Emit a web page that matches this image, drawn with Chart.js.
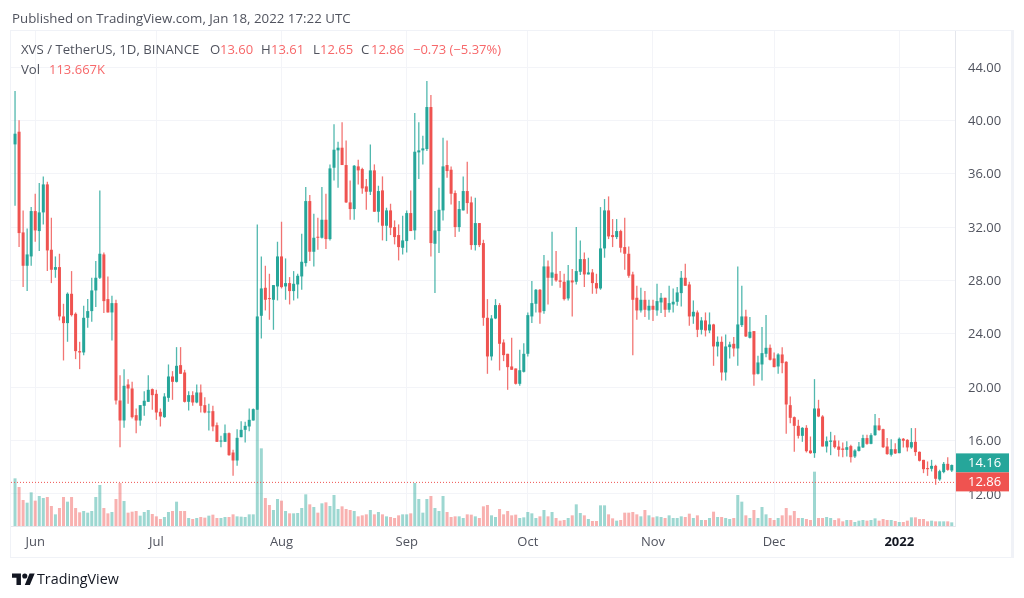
<!DOCTYPE html>
<html>
<head>
<meta charset="utf-8">
<title>XVS / TetherUS</title>
<script src="https://cdn.jsdelivr.net/npm/chart.js@4/dist/chart.umd.min.js"></script>
<style>
  html, body { margin:0; padding:0; background:#fff; width:1024px; height:598px; overflow:hidden; }
  body { font-family:"Open Sans", "Noto Sans", sans-serif; position:relative; }
  #wrap { position:absolute; left:0; top:0; width:1024px; height:598px; }
  #frame { position:absolute; left:10px; top:30px; width:1000px; height:526px; border:1px solid #f0f2f7; border-right:3px solid #f0f2f7; }
  #published { position:absolute; left:12px; top:10px; font-size:13.3px; line-height:17px; color:#50535e; }
  .legend { position:absolute; left:21px; font-size:13.2px; line-height:17px; color:#50535e; white-space:pre; }
  #l1 { top:41px; } #l2 { top:61px; }
  .legend span { position:absolute; top:0; color:#f7686a; font-size:13px; }
  .legend b { position:absolute; top:0; font-weight:normal; }
  #logo { position:absolute; left:12px; top:571px; width:23px; height:15px; }
  #brand { position:absolute; left:37px; top:569px; font-size:14.3px; line-height:19px; color:#131722; }
</style>
</head>
<body>
<div id="wrap"><canvas id="chart" width="1024" height="598"></canvas></div>
<div id="frame"></div>
<div id="published">Published on TradingView.com, Jan 18, 2022 17:22 UTC</div>
<div class="legend" id="l1">XVS / TetherUS, 1D, BINANCE<b style="left:189px">O</b><span style="left:199px">13.60</span><b style="left:240px">H</b><span style="left:250px">13.61</span><b style="left:292px">L</b><span style="left:299px">12.65</span><b style="left:340px">C</b><span style="left:350px">12.86</span><span style="left:392px">−0.73 (−5.37%)</span></div>
<div class="legend" id="l2">Vol<span style="left:28px">113.667K</span></div>
<svg id="logo" viewBox="0 0 36 22"><path fill="#131722" d="M14 21H7V10H0V3h14v18zM28 21h-8l7.5-18h8L28 21z"/><circle fill="#131722" cx="20" cy="7" r="4"/></svg>
<div id="brand">TradingView</div>
<script>
const tickIndex  = [5, 35, 66, 97, 127, 158, 188, 219];
const tickLabels = ['Jun', 'Jul', 'Aug', 'Sep', 'Oct', 'Nov', 'Dec', '2022'];
const priceTicks = [12, 16, 20, 24, 28, 32, 36, 40, 44];

const opens = [
  38.2,39.15,31.6,29.1,29.8,33.2,31.7,33.1,35.2,30.3,
  28.8,29.0,25.3,24.8,27.0,25.5,22.7,22.6,25.2,25.7,
  27.25,28.2,29.95,26.6,25.6,26.3,19.0,17.5,20.2,19.9,
  17.9,17.5,18.6,18.9,19.85,19.5,18.15,17.75,19.2,20.8,
  20.4,21.65,21.1,18.9,19.4,18.85,19.6,18.65,18.1,18.2,
  17.15,15.92,15.9,16.55,15.1,14.5,16.25,16.8,17.05,17.5,
  18.3,25.35,27.45,26.65,26.55,27.55,29.8,27.55,27.8,27.2,
  27.7,28.3,29.3,33.95,30.15,31.25,31.2,32.55,31.1,36.45,
  37.75,37.95,36.65,33.85,33.35,36.55,36.35,35.05,34.65,36.25,
  33.15,34.75,32.1,33.25,32.0,31.4,30.45,30.95,33.05,31.75,
  37.6,37.75,37.85,41.0,30.75,31.7,33.25,36.65,36.3,34.55,
  32.0,33.25,34.7,33.85,30.65,32.3,30.8,25.2,22.3,25.15,
  26.15,23.35,22.5,21.55,21.4,20.25,21.15,22.5,25.3,26.25,
  27.3,25.7,29.05,28.2,28.5,28.0,27.9,26.65,28.0,27.9,
  28.65,29.6,28.45,28.6,27.8,27.4,30.4,33.25,31.4,31.25,
  31.7,30.5,30.0,28.45,26.7,25.75,26.55,25.75,26.1,25.75,
  26.35,26.7,25.8,26.2,26.4,27.05,28.2,27.7,25.3,25.6,
  24.3,25.0,24.25,24.7,23.05,23.4,21.1,23.0,23.25,22.9,
  24.65,25.3,23.7,24.2,21.0,21.7,22.5,22.95,22.15,21.55,
  22.45,21.9,18.65,17.75,17.1,16.35,16.95,15.25,15.05,18.4,
  17.8,15.55,15.9,16.0,15.55,15.4,15.3,15.58,14.8,15.22,
  15.48,16.18,15.75,16.4,17.13,16.85,15.55,14.93,15.35,15.05,
  16.13,16.05,15.48,15.9,15.15,14.55,13.93,13.88,14.1,13.08,
  13.63,14.25,13.75
];
const highs = [
  42.2,40.0,33.25,31.9,33.5,34.5,35.3,35.8,35.4,32.7,
  29.8,30.0,26.25,27.1,28.7,25.6,23.4,26.1,26.6,28.2,
  29.45,34.75,30.1,28.3,26.85,26.55,20.9,21.35,20.6,20.4,
  18.4,18.65,19.7,20.9,19.9,19.8,18.4,19.55,21.7,21.2,
  23.0,23.0,21.3,19.7,19.7,20.2,20.2,19.25,18.75,18.6,
  17.35,16.35,17.2,16.6,15.3,16.85,17.45,17.4,18.4,18.4,
  32.2,29.8,29.1,28.5,27.65,30.9,32.4,29.65,28.25,28.7,
  28.5,31.5,35.0,34.4,33.0,32.7,35.0,34.5,36.7,39.7,
  38.4,39.85,38.5,35.5,36.65,37.05,36.45,35.6,38.2,36.7,
  35.1,35.8,33.45,33.75,32.5,32.2,32.85,33.25,34.75,40.55,
  39.85,38.85,42.95,41.9,33.2,34.95,38.7,38.5,36.55,34.75,
  33.95,35.8,36.9,34.3,34.2,32.3,31.05,26.6,25.4,26.6,
  26.3,23.58,22.5,23.7,21.4,22.8,23.3,25.6,27.95,27.35,
  27.35,29.9,29.5,31.65,30.2,28.7,28.5,29.15,28.85,32.0,
  31.0,30.1,29.7,28.85,28.5,33.5,34.1,34.3,32.6,32.6,
  31.8,32.7,30.55,28.65,27.6,27.45,27.2,26.55,26.55,27.75,
  27.05,26.7,27.6,27.4,27.5,28.7,29.25,27.9,26.5,25.75,
  25.25,25.6,25.6,24.75,23.8,23.8,23.95,23.4,23.75,29.05,
  27.6,25.8,25.25,24.2,22.35,24.5,25.4,23.2,22.6,22.55,
  23.0,21.95,19.3,17.8,17.55,17.0,17.15,16.3,20.6,19.05,
  17.9,16.3,16.65,16.4,16.0,15.85,15.95,15.68,15.35,15.88,
  16.43,16.43,16.55,17.98,17.68,16.88,16.18,16.1,15.8,16.23,
  16.18,16.1,16.93,16.93,15.18,14.55,14.43,14.55,14.18,13.8,
  14.38,14.75,14.2
];
const lows = [
  33.6,30.5,27.5,27.2,29.1,30.9,30.2,32.2,28.7,27.8,
  28.2,25.0,22.0,23.4,25.3,22.1,21.35,22.4,24.45,24.9,
  26.0,28.1,25.55,25.6,23.5,18.7,15.5,16.95,18.75,17.65,
  16.55,17.1,17.85,18.9,18.3,17.55,17.05,17.7,18.9,19.05,
  20.35,21.0,18.85,18.25,18.6,18.8,18.1,18.05,16.75,16.7,
  15.9,15.5,15.9,14.85,13.35,14.1,16.25,15.85,16.7,17.5,
  18.3,23.65,25.75,25.05,24.3,26.5,27.4,26.55,26.2,26.5,
  26.65,27.3,29.05,29.45,29.05,30.3,31.15,30.35,31.0,35.5,
  34.95,36.65,33.8,32.55,32.55,35.2,34.5,33.3,34.4,33.15,
  32.35,31.0,30.95,31.4,30.7,29.5,29.95,30.1,31.7,31.05,
  35.6,36.7,37.7,29.8,27.05,30.05,32.5,35.7,33.7,31.25,
  31.65,33.25,33.0,30.3,30.25,30.5,24.6,21.0,22.0,25.1,
  21.25,21.95,19.8,21.3,20.2,20.1,21.1,22.3,24.8,25.6,
  24.75,25.5,26.2,27.6,27.9,27.45,26.5,26.5,25.3,27.7,
  28.4,27.5,28.45,27.0,27.0,27.3,29.7,31.1,30.5,31.1,
  30.1,28.8,28.2,22.4,25.05,25.6,25.25,25.05,24.95,25.35,
  25.55,25.25,25.6,25.6,26.1,26.05,27.6,24.6,24.75,23.75,
  23.95,23.8,24.05,21.6,22.3,20.5,20.5,22.15,22.3,21.6,
  24.5,23.75,23.65,20.1,20.95,20.5,22.25,22.0,21.5,21.0,
  21.05,16.5,17.3,15.15,16.15,15.9,15.1,15.0,14.7,17.75,
  15.55,15.1,14.9,15.4,14.8,14.75,14.8,14.35,14.68,15.18,
  15.43,15.68,15.72,16.35,16.73,15.43,14.93,14.8,14.98,15.05,
  15.48,15.18,15.38,14.85,14.43,13.55,13.35,13.68,12.68,12.98,
  13.55,13.73,13.63
];
const closes = [
  39.0,31.55,29.1,29.95,33.2,31.75,33.1,35.2,30.25,28.8,
  29.0,25.3,24.8,27.0,25.4,22.7,22.6,25.2,25.7,27.25,
  28.2,30.0,26.45,25.6,26.3,19.0,17.5,20.1,19.9,17.75,
  17.5,18.65,18.98,19.8,19.4,18.1,17.8,19.3,20.8,20.4,
  21.6,21.0,18.9,19.4,18.85,19.6,18.6,18.1,18.15,17.05,
  15.9,15.97,16.55,14.9,14.5,16.2,16.8,17.1,17.55,18.35,
  25.3,27.4,26.55,26.6,27.65,29.8,27.5,27.8,27.2,27.75,
  28.35,29.4,33.95,30.15,31.2,31.2,32.55,31.1,36.4,37.8,
  37.95,36.65,33.85,33.35,36.6,36.25,34.9,34.65,36.25,33.15,
  34.7,32.1,33.25,31.95,31.25,30.5,31.0,33.05,31.7,37.65,
  37.75,37.9,41.0,30.8,31.75,33.3,36.55,36.2,34.5,32.0,
  33.35,34.7,33.8,30.65,32.3,30.65,25.2,22.3,25.15,26.15,
  23.25,22.4,21.5,21.3,20.25,21.27,22.5,25.4,26.3,27.3,
  25.6,29.05,28.2,28.6,28.0,27.9,26.6,28.0,27.85,28.7,
  29.6,28.45,28.6,27.8,27.4,30.4,33.25,31.3,31.25,31.7,
  30.45,30.0,28.35,26.55,25.75,26.55,25.8,26.1,25.8,26.45,
  26.7,25.8,26.3,26.4,27.1,28.2,27.6,25.3,25.65,24.3,
  25.0,24.25,24.7,23.05,23.4,21.1,23.05,23.2,22.9,24.7,
  25.3,23.8,24.15,20.95,21.85,22.55,22.95,22.05,21.5,22.45,
  21.8,18.7,17.7,17.1,16.35,16.95,15.2,15.05,18.4,17.8,
  15.55,15.95,16.0,15.5,15.3,15.3,15.5,14.75,15.25,15.55,
  16.18,15.75,16.4,17.13,16.78,15.5,14.98,15.35,15.03,16.13,
  15.98,15.48,15.88,15.13,14.48,13.85,13.85,14.1,13.13,13.7,
  14.25,13.8,14.16
];
const volumes = [
  143,117,78,70,101,76,90,84,87,60,
  35,54,87,73,87,54,41,45,40,45,
  87,123,54,38,42,81,129,75,40,43,
  45,31,42,48,36,29,21,27,42,45,
  73,45,45,24,21,24,27,25,31,34,
  24,24,27,27,35,29,28,27,35,35,
  348,233,84,63,48,81,76,45,38,38,
  39,54,95,65,57,40,68,71,60,93,
  51,59,51,48,45,29,32,35,48,35,
  42,35,29,27,24,32,35,35,38,129,
  81,40,81,90,54,45,90,42,27,29,
  29,24,35,34,29,24,59,63,32,27,
  51,35,45,32,34,24,26,42,38,24,
  29,48,29,42,24,16,18,24,32,65,
  39,32,21,15,15,62,62,35,23,16,
  18,40,40,42,35,29,48,32,26,29,
  27,24,32,24,24,29,27,37,24,32,
  18,18,24,43,27,27,24,21,24,93,
  73,32,24,48,24,57,35,24,18,24,
  32,54,32,45,24,24,21,18,163,24,
  24,27,24,18,23,14,18,18,12,16,
  18,16,18,23,16,21,18,18,15,12,
  12,16,26,26,21,21,14,16,14,14,
  14,14,11
];
const markPrice = 12.86;
const lastPrice = 14.16;

const GREEN = '#26a69a', RED = '#ef5350';
const GREEN_WICK = 'rgba(38,166,154,.8)', RED_WICK = 'rgba(239,83,80,.8)';
const GREEN_SOFT = 'rgba(38,166,154,.45)', RED_SOFT = 'rgba(239,83,80,.45)';
const GRID = '#f3f4f8', AXIS = '#e4e6ec';

const up = closes.map((c, i) => c >= opens[i]);
const candleColors = up.map(u => u ? GREEN : RED);
const wickColors = up.map(u => u ? GREEN_WICK : RED_WICK);
const volumeColors = up.map(u => u ? GREEN_SOFT : RED_SOFT);

// price tags sit on top of the axis labels, like the original
const priceTags = {
  id: 'priceTags',
  afterDraw(chart){
    const ctx = chart.ctx, y = chart.scales.y, left = chart.chartArea.right + 1;
    const my = y.getPixelForValue(markPrice);
    const tag = (top, color, value) => {
      ctx.fillStyle = color;
      ctx.fillRect(left, top, 53, 19);
      ctx.fillStyle = '#fff';
      ctx.font = '13px "Open Sans", "Noto Sans", sans-serif';
      ctx.textBaseline = 'middle';
      ctx.textAlign = 'left';
      ctx.fillText(value.toFixed(2), left + 12, top + 10);
    };
    tag(my - 10 - 19, GREEN, lastPrice);
    tag(my - 10, RED, markPrice);
  }
};

new Chart(document.getElementById('chart'), {
  data: {
    datasets: [
      { type:'bar', order:1, grouped:false, barThickness:3, minBarLength:1, inflateAmount:0, yAxisID:'y',
        backgroundColor:candleColors, data:opens.map((o, i) => ({ x:i, y:[o, closes[i]] })) },
      { type:'bar', order:2, grouped:false, barThickness:1.3, inflateAmount:0, yAxisID:'y',
        backgroundColor:wickColors, data:highs.map((h, i) => ({ x:i, y:[lows[i], h] })) },
      { type:'line', order:3, yAxisID:'y', borderColor:RED, borderWidth:1, borderDash:[1, 2], pointRadius:0,
        data:[{ x:-1, y:markPrice }, { x:232.8, y:markPrice }] },
      { type:'bar', order:4, grouped:false, barThickness:3, inflateAmount:0, yAxisID:'vol',
        backgroundColor:volumeColors, data:volumes.map((v, i) => ({ x:i, y:v })) }
    ]
  },
  options: {
    responsive:false,
    animation:false,
    layout:{ padding:{ left:11, top:31, right:12, bottom:41 } },
    plugins:{ legend:{ display:false }, tooltip:{ enabled:false } },
    scales:{
      x:{
        type:'linear', min:-1, max:232.8, offset:false,
        afterBuildTicks(s){ s.ticks = tickIndex.map(v => ({ value:v })); },
        afterFit(s){ s.height = 31; },
        grid:{ color:GRID, drawTicks:false, offset:false },
        border:{ color:AXIS },
        ticks:{
          autoSkip:false, maxRotation:0, padding:8,
          callback:v => tickLabels[tickIndex.indexOf(v)],
          color:ctx => ctx.tick && ctx.tick.label === '2022' ? '#131722' : '#50535e',
          font:ctx => ({ family:'"Open Sans", "Noto Sans", sans-serif', size:13, weight:ctx.tick && ctx.tick.label === '2022' ? 'bold' : 'normal' })
        }
      },
      y:{
        position:'right', min:9.59, max:46.7,
        afterBuildTicks(s){ s.ticks = priceTicks.map(v => ({ value:v })); },
        afterFit(s){ s.width = 57; },
        grid:{ color:GRID, drawTicks:false },
        border:{ color:AXIS },
        ticks:{
          padding:13, color:'#50535e', labelOffset:1,
          callback:v => v.toFixed(2),
          font:{ family:'"Open Sans", "Noto Sans", sans-serif', size:13 }
        }
      },
      vol:{ display:false, min:0, max:1485 }
    }
  },
  plugins:[priceTags]
});
</script>
</body>
</html>
